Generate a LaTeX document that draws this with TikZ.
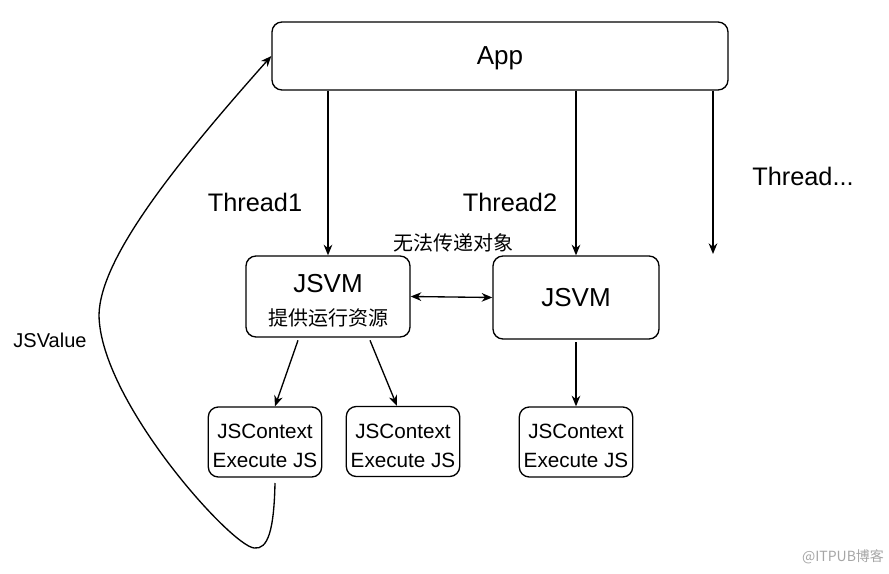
\documentclass[tikz,border=0pt]{standalone}
\usepackage{fontspec}
\setmainfont{Liberation Sans}
\newfontfamily\cjk{Noto Sans CJK SC}
\usepackage{tikz}
\usetikzlibrary{arrows.meta, positioning}

\begin{document}
\begin{tikzpicture}[x=0.75pt, y=-0.75pt,
		box/.style={draw, line width=1pt, rounded corners=7.5pt, align=center},
		ctxbox/.style={box, minimum width=82.5pt, minimum height=52.5pt, font=\fontsize{15.5}{21.5}\selectfont},
		lbl/.style={font=\fontsize{19}{23}\selectfont},
		arr/.style={line width=1pt, -{Stealth[length=8pt, width=6.5pt]}},
		]
	\useasboundingbox (0,0) rectangle (889,574);
	% boxes
	\node[box, minimum width=342pt, minimum height=51pt, text depth=0pt, font=\fontsize{19.5}{23}\selectfont] (app) at (500,56) {App};
	\node[box, minimum width=123pt, minimum height=60.75pt, font=\fontsize{19.5}{25}\selectfont] (vmA) at (328,296.5)
		{\rule{0pt}{20pt}JSVM\\{\cjk\fontsize{15}{25}\selectfont 提供运行资源}};
	\node[box, minimum width=124.5pt, minimum height=62.25pt, font=\fontsize{19.5}{23}\selectfont] (vmB) at (576,297.5) {JSVM};
	\node[ctxbox] (ctxA) at (265,442) {\rule{0pt}{17pt}JSContext\\Execute JS};
	\node[ctxbox] (ctxB) at (403,441.5) {\rule{0pt}{17pt}JSContext\\Execute JS};
	\node[ctxbox] (ctxC) at (576,442) {\rule{0pt}{17pt}JSContext\\Execute JS};
	\coordinate (thr3) at (713,254);
	% labels
	\node[lbl] (t1) at (255,202) {Thread1};
	\node[lbl] (t2) at (510,202) {Thread2};
	\node[lbl] (t3) at (803,176) {Thread...};
	\node[font=\cjk\fontsize{15}{18}\selectfont] (nopass) at (453,243) {无法传递对象};
	\node[font=\fontsize{15}{18}\selectfont] (jsval) at (50,340) {JSValue};
	\node[font=\cjk\fontsize{10.5}{12}\selectfont, text=black!35] (wm) at (843,557) {@ITPUB博客};
	% connectors
	\draw[arr] (vmA.north |- app.south) -- (vmA.north);
	\draw[arr] (vmB.north |- app.south) -- (vmB.north);
	\draw[arr] (thr3 |- app.south) -- (thr3);
	\draw[line width=1pt, {Stealth[length=8pt, width=6.5pt]}-{Stealth[length=8pt, width=6.5pt]}] (vmA.east) -- (vmB.west);
	\draw[arr] ([xshift=-22.5pt, yshift=-2pt]vmA.south) -- ([xshift=7.5pt]ctxA.north);
	\draw[arr] ([xshift=31.5pt, yshift=-2pt]vmA.south) -- ([xshift=-4.5pt]ctxB.north);
	\draw[arr] ([yshift=-2pt]vmB.south) -- (ctxC.north);
	\draw[arr] ([xshift=7.5pt, yshift=-4pt]ctxA.south) .. controls (274,530) and (268,550) .. (254,548)
		.. controls (230,545) and (100,400) .. (99,315)
		.. controls (100,260) and (170,170) .. (app.west);
\end{tikzpicture}
\end{document}
